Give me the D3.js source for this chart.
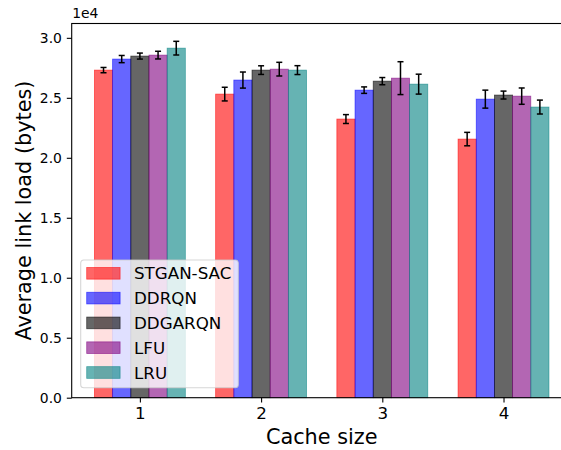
<!DOCTYPE html>
<html>
<head>
<meta charset="utf-8">
<script src="https://cdn.jsdelivr.net/npm/d3@7"></script>
<style>
  html, body { margin: 0; padding: 0; background: #fff; }
  svg { display: block; font-family: "DejaVu Sans", sans-serif; }
</style>
</head>
<body>
<svg id="chart" width="561" height="450"></svg>
<script>
// Cache sizes on the x axis
const cacheSizes = [1, 2, 3, 4];

// Method names (legend order)
const methods = ["STGAN-SAC", "DDRQN", "DDGARQN", "LFU", "LRU"];
const baseColors = ["#ff0000", "#0000ff", "#000000", "#800080", "#008080"];

// Mean link load per method (bytes), one value per cache size
const stganSac = [27310, 25310, 23230, 21560];
const ddrqn    = [28230, 26480, 25640, 24890];
const ddgarqn  = [28480, 27310, 26390, 25230];
const lfu      = [28560, 27390, 26640, 25140];
const lru      = [29140, 27310, 26140, 24230];

// Standard deviation per method (bytes)
const stganSacErr = [220, 570, 370, 560];
const ddrqnErr    = [300, 670, 270, 750];
const ddgarqnErr  = [250, 360, 300, 330];
const lfuErr      = [320, 570, 1370, 680];
const lruErr      = [570, 370, 830, 580];

// Y tick values (bytes)
const yTicks = [0, 5000, 10000, 15000, 20000, 25000, 30000];

const series = [stganSac, ddrqn, ddgarqn, lfu, lru];
const errors = [stganSacErr, ddrqnErr, ddgarqnErr, lfuErr, lruErr];

const svg = d3.select("#chart");
const plot = { left: 71.7, right: 571.7, top: 23.5, bottom: 397.7 };

const barW = 0.15;
const nSeries = methods.length;
const xMin = d3.min(cacheSizes) - barW * nSeries / 2;
const xMax = d3.max(cacheSizes) + barW * nSeries / 2;
const xPad = (xMax - xMin) * 0.05;
const x = d3.scaleLinear()
  .domain([xMin - xPad, xMax + xPad])
  .range([plot.left, plot.right]);

const yTop = d3.max(series.flatMap((s, i) => s.map((v, j) => v + errors[i][j]))) * 1.05;
const y = d3.scaleLinear()
  .domain([0, yTop])
  .range([plot.bottom, plot.top]);

// Bars
const bars = [];
series.forEach((vals, i) => {
  vals.forEach((v, j) => {
    bars.push({ i, x: cacheSizes[j] + (i - (nSeries - 1) / 2) * barW, v, e: errors[i][j] });
  });
});

const gBars = svg.append("g");
gBars.selectAll("rect")
  .data(bars)
  .join("rect")
  .attr("x", d => x(d.x - barW / 2))
  .attr("width", d => x(d.x + barW / 2) - x(d.x - barW / 2))
  .attr("y", d => y(d.v))
  .attr("height", d => y(0) - y(d.v))
  .attr("fill", d => baseColors[d.i])
  .attr("fill-opacity", 0.6)
  .attr("stroke", d => baseColors[d.i])
  .attr("stroke-opacity", 0.6)
  .attr("stroke-width", 0.8);

// Error bars
const gErr = svg.append("g").attr("stroke", "#000").attr("stroke-width", 1.5);
const capHalf = 3;
bars.forEach(d => {
  const cx = x(d.x);
  gErr.append("line").attr("x1", cx).attr("x2", cx).attr("y1", y(d.v - d.e)).attr("y2", y(d.v + d.e));
  gErr.append("line").attr("x1", cx - capHalf).attr("x2", cx + capHalf).attr("y1", y(d.v - d.e)).attr("y2", y(d.v - d.e));
  gErr.append("line").attr("x1", cx - capHalf).attr("x2", cx + capHalf).attr("y1", y(d.v + d.e)).attr("y2", y(d.v + d.e));
});

// Axes
const xAxis = d3.axisBottom(x).tickValues(cacheSizes).tickFormat(d3.format("d"))
  .tickSizeInner(4.9).tickSizeOuter(0).tickPadding(4.9);
const gx = svg.append("g").attr("transform", `translate(0,${plot.bottom})`).call(xAxis);
gx.select(".domain").remove();
gx.selectAll(".tick line").attr("stroke", "#000").attr("stroke-width", 1.1);
gx.selectAll(".tick text").attr("fill", "#000").attr("font-size", "16.7px")
  .attr("font-family", "DejaVu Sans");

const yAxis = d3.axisLeft(y).tickValues(yTicks).tickFormat(d => (d / 1e4).toFixed(1))
  .tickSizeInner(4.9).tickSizeOuter(0).tickPadding(4.9);
const gy = svg.append("g").attr("transform", `translate(${plot.left},0)`).call(yAxis);
gy.select(".domain").remove();
gy.selectAll(".tick line").attr("stroke", "#000").attr("stroke-width", 1.1);
gy.selectAll(".tick text").attr("fill", "#000").attr("font-size", "13.9px")
  .attr("font-family", "DejaVu Sans");

// Spines
const spines = svg.append("g").attr("stroke", "#000").attr("stroke-width", 1.1).attr("fill", "none");
spines.append("rect")
  .attr("x", plot.left).attr("y", plot.top)
  .attr("width", plot.right - plot.left).attr("height", plot.bottom - plot.top);

// Offset text for the y axis
svg.append("text").attr("x", plot.left + 0.5).attr("y", 18.3)
  .attr("font-size", "13.9px").attr("fill", "#000").text("1e4");

// Axis labels
svg.append("text")
  .attr("x", (plot.left + plot.right) / 2).attr("y", 443.5)
  .attr("text-anchor", "middle").attr("font-size", "20.8px").attr("fill", "#000")
  .text("Cache size");

svg.append("text")
  .attr("transform", `translate(31,${(plot.top + plot.bottom) / 2}) rotate(-90)`)
  .attr("text-anchor", "middle").attr("font-size", "20.8px").attr("fill", "#000")
  .text("Average link load (bytes)");

// Legend
const leg = { x: 80.7, y: 260, w: 157.6, h: 127.7, rowH: 24.8, first: 273.3 };
const gLeg = svg.append("g");
gLeg.append("rect")
  .attr("x", leg.x).attr("y", leg.y).attr("width", leg.w).attr("height", leg.h)
  .attr("rx", 3.3).attr("ry", 3.3)
  .attr("fill", "#fff").attr("fill-opacity", 0.8)
  .attr("stroke", "#cccccc").attr("stroke-opacity", 0.8).attr("stroke-width", 1.1);

methods.forEach((m, i) => {
  const cy = leg.first + i * leg.rowH;
  gLeg.append("rect")
    .attr("x", 86.7).attr("y", cy - 5.85).attr("width", 33.4).attr("height", 11.7)
    .attr("fill", baseColors[i]).attr("fill-opacity", 0.6)
    .attr("stroke", baseColors[i]).attr("stroke-opacity", 0.6).attr("stroke-width", 0.8);
  gLeg.append("text")
    .attr("x", 134).attr("y", cy).attr("dy", "0.36em")
    .attr("font-size", "16.7px").attr("fill", "#000")
    .text(m);
});
</script>
</body>
</html>
